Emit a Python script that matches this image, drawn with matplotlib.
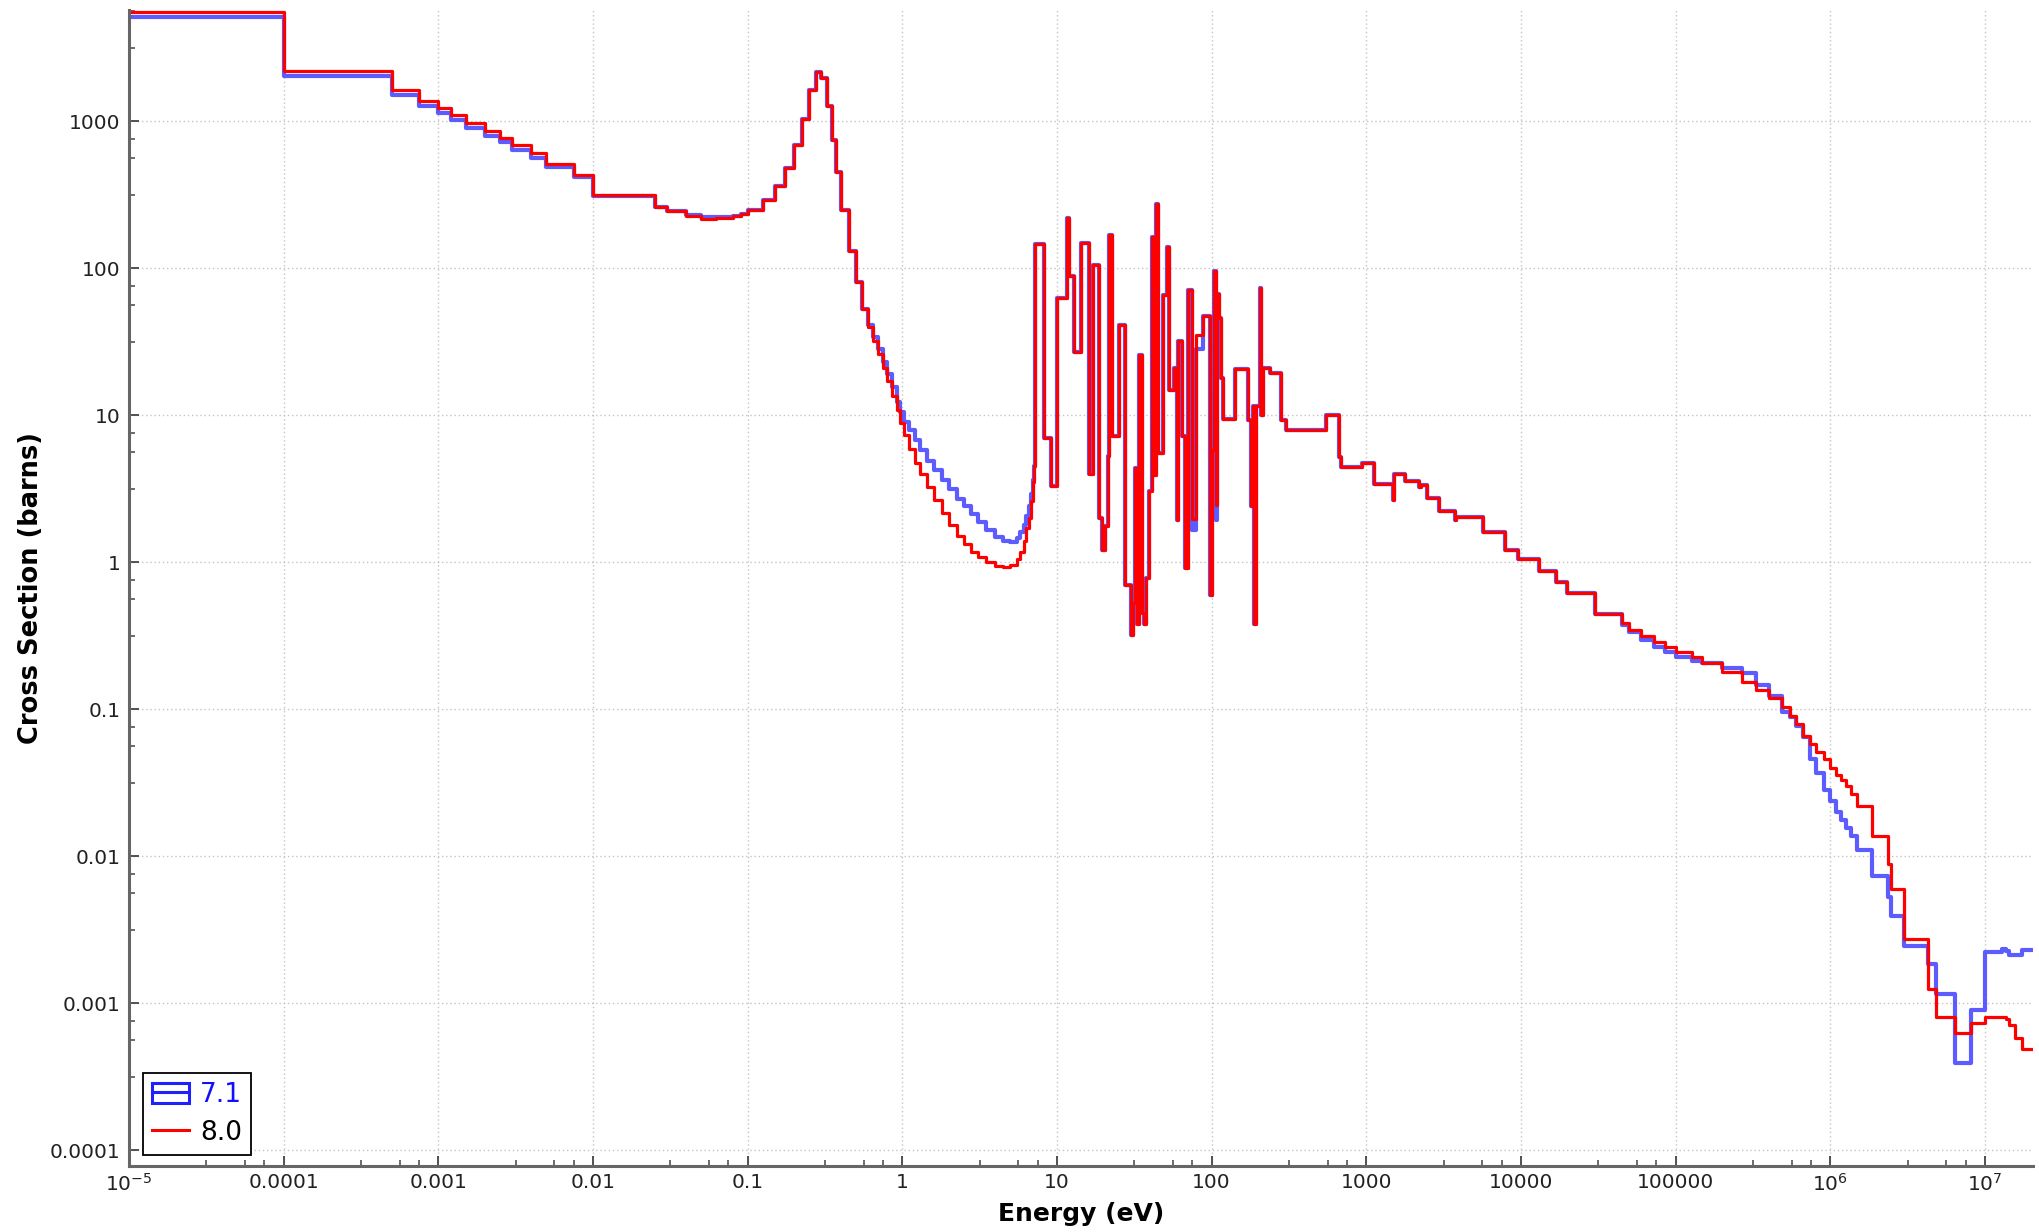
import numpy as np
import matplotlib
matplotlib.use('Agg')
import matplotlib.pyplot as plt
from matplotlib.lines import Line2D
from matplotlib.patches import Patch
from matplotlib.legend_handler import HandlerTuple
from matplotlib.ticker import FixedLocator, FuncFormatter, NullFormatter

# ---------------- group structure (eV) and cross sections (barns) ----------------
# thermal range, 1e-5 .. 0.1 eV
low_edges = [1e-5, 1e-4, 5e-4, 7.5e-4, 1e-3, 1.2e-3, 1.5e-3, 2e-3, 2.5e-3, 3e-3, 4e-3,
             5e-3, 7.5e-3, 1e-2, 2.5e-2, 3e-2, 4e-2, 5e-2, 6.2e-2, 8e-2, 9e-2, 0.1]
low_xs_71 = [5100, 2030, 1500, 1265, 1128, 1016, 896, 794, 723, 638, 565,
             486, 415, 310, 262, 243, 231, 221, 222, 225, 235]
low_xs_80 = [5500, 2190, 1630, 1375, 1225, 1100, 970, 850, 770, 683, 602,
             512, 433, 314, 262, 243, 225, 217, 219, 225, 235]

# 0.3 eV resonance
peak_edges = [0.1, 0.125, 0.15, 0.175, 0.2, 0.225, 0.25, 0.275, 0.3, 0.325, 0.35,
              0.375, 0.4, 0.45, 0.5, 0.55, 0.6]
peak_xs = [248, 291, 364, 482, 685, 1039, 1626, 2141, 1958, 1259, 745,
           453, 250, 130, 80, 52.7]

# wing between the resonances
tail_edges = [0.6, 0.65, 0.7, 0.75, 0.8, 0.86, 0.92, 0.97, 1.03, 1.1, 1.2, 1.3, 1.45,
              1.6, 1.8, 2.0, 2.25, 2.5, 2.8, 3.1, 3.5, 4.0, 4.5, 5.0, 5.5, 5.8, 6.1,
              6.35, 6.6, 6.8, 7.0, 7.13, 7.26]
tail_xs_71 = [41, 34, 28, 23, 19, 15.5, 12.3, 10.5, 9.0, 7.9, 6.8, 5.8, 4.9,
              4.25, 3.6, 3.15, 2.7, 2.4, 2.12, 1.86, 1.65, 1.48, 1.4, 1.37, 1.45, 1.6, 1.8,
              2.05, 2.4, 2.9, 3.6, 4.5]
tail_xs_80 = [39.5, 32, 26, 21, 17, 13.5, 10.8, 8.9, 7.3, 5.9, 4.7, 4.0, 3.25,
              2.65, 2.15, 1.8, 1.5, 1.32, 1.18, 1.08, 1.0, 0.94, 0.92, 0.95, 1.05, 1.18, 1.4,
              1.7, 2.0, 2.6, 3.5, 4.5]

# resolved resonance range
res_edges = [7.26, 8.2, 9.15, 10.0, 11.6, 11.9, 12.9, 14.4, 16.2, 17.0, 18.8, 19.5, 20.3,
             21.3, 21.6, 22.6, 25.3, 27.6, 29.9, 31.1, 32.0, 33.0, 34.0, 35.7, 36.7, 37.8,
             39.4, 40.9, 42.6, 43.9, 45.2, 48.4, 51.4, 53.4, 57.3, 59.6, 61.0, 64.6, 67.0,
             70.0, 75.0, 79.0, 88.0, 97.5, 101, 103, 106, 109, 112, 115, 119, 142, 173,
             179, 186, 188, 194, 204, 210, 216, 237, 280, 303, 546, 665, 685, 942, 1116]
res_xs = [145, 7.0, 3.3, 62.5, 219, 89, 26.8, 148, 4.0, 105, 2.0, 1.2,
          1.75, 5.3, 169, 7.2, 40.7, 0.70, 0.32, 0.53, 4.4, 0.38, 25.7, 0.45, 0.38,
          0.78, 3.03, 164, 3.9, 274, 5.5, 66, 140, 14.9, 20.9, 1.94, 31.7, 7.2,
          0.91, 71, 1.97, 35, 47.5, 0.6, 5.8, 95, 2.45, 67, 46, 18, 9.4, 20.7,
          9.3, 2.4, 11.5, 0.38, 11.5, 73, 10.0, 20.9, 19.3, 9.3, 7.95, 10.0, 5.2, 4.44, 4.7]
# groups where 7.1 differs from 8.0
res_idx_71 = [40, 41, 46]
res_val_71 = [1.65, 28, 1.94]

# unresolved / fast range
fast_edges = [1116, 1490, 1520, 1782, 2177, 2244, 2477, 2965, 3726, 3800, 5660, 7943,
              9600, 13000, 16800, 20000, 30000, 45000]
fast_xs = [3.38, 2.65, 3.98, 3.58, 3.23, 3.35, 2.75, 2.24, 1.94, 2.04, 1.59,
           1.21, 1.05, 0.865, 0.732, 0.612, 0.444]

high_edges = [45000, 50000, 60000, 73000, 85000, 1e5, 1.27e5, 1.48e5, 2e5, 2.67e5, 3.3e5,
              4e5, 4.9e5, 5.5e5, 6.05e5, 6.7e5, 7.43e5, 8.15e5, 9.1e5, 1e6, 1.09e6, 1.18e6,
              1.27e6, 1.37e6, 1.49e6, 1.85e6, 2.35e6, 2.47e6, 3e6, 4.27e6, 4.8e6, 6.4e6,
              8.1e6, 1e7, 1.3e7, 1.36e7, 1.44e7, 1.56e7, 1.73e7, 2e7]
high_xs_71 = [0.376, 0.334, 0.294, 0.265, 0.244, 0.227, 0.214, 0.205, 0.189, 0.176,
              0.147, 0.122, 0.095, 0.089, 0.077, 0.0646, 0.0457, 0.037, 0.028, 0.0236,
              0.020, 0.0177, 0.0155, 0.0136, 0.011, 0.0073, 0.0053, 0.0039, 0.00245,
              0.00184, 0.00115, 0.00039, 0.0009, 0.00222, 0.00232, 0.00226, 0.00214,
              0.00214, 0.00231]
high_xs_80 = [0.386, 0.346, 0.316, 0.288, 0.265, 0.245, 0.226, 0.205, 0.178, 0.152,
              0.134, 0.119, 0.103, 0.090, 0.079, 0.066, 0.058, 0.051, 0.0455, 0.0398,
              0.0357, 0.0328, 0.0298, 0.0266, 0.0219, 0.0138, 0.0089, 0.0060, 0.00274,
              0.00124, 0.00080, 0.00063, 0.00073, 0.00081, 0.00081, 0.00078, 0.00071,
              0.00058, 0.00049]

labels = ['7.1', '8.0']

# ---------------- assemble the two libraries ----------------
edges = np.concatenate([low_edges, peak_edges[1:], tail_edges[1:], res_edges[1:],
                        fast_edges[1:], high_edges[1:]])

res_xs_71 = list(res_xs)
for i, v in zip(res_idx_71, res_val_71):
    res_xs_71[i] = v

xs71 = np.concatenate([low_xs_71, peak_xs, tail_xs_71, res_xs_71, fast_xs, high_xs_71])
xs80 = np.concatenate([low_xs_80, peak_xs, tail_xs_80, res_xs, fast_xs, high_xs_80])
assert len(edges) == len(xs71) + 1 == len(xs80) + 1

BLUE = '#4a4aff'
RED = '#ff0000'

plt.rcParams['font.family'] = 'DejaVu Sans'
plt.rcParams['mathtext.default'] = 'regular'

fig = plt.figure(figsize=(20.39, 12.32), dpi=100)
ax = fig.add_axes([0.0633, 0.0536, 0.9338, 0.9383])

ax.step(edges, np.append(xs71, xs71[-1]), where='post', color=BLUE, lw=3.0, alpha=0.9)
ax.step(edges, np.append(xs80, xs80[-1]), where='post', color=RED, lw=2.3)

ax.set_xscale('log')
ax.set_yscale('log')
ax.set_xlim(1e-5, 2.05e7)
ax.set_ylim(7.8e-5, 5700)


def decade_label(v, pos, lo, hi):
    e = int(round(np.log10(v)))
    if e < lo or e > hi:
        return r'$10^{%d}$' % e
    if e < 0:
        return ('%.' + str(-e) + 'f') % v
    return '%d' % round(v)


ax.xaxis.set_major_locator(FixedLocator([10.0 ** k for k in range(-5, 8)]))
ax.xaxis.set_major_formatter(FuncFormatter(lambda v, p: decade_label(v, p, -4, 5)))
ax.yaxis.set_major_locator(FixedLocator([10.0 ** k for k in range(-4, 4)]))
ax.yaxis.set_major_formatter(FuncFormatter(lambda v, p: decade_label(v, p, -4, 5)))

# minor marks sit at half, three-quarter and seven-eighth of each decade
fracs = [0.5, 0.75, 0.875]
ax.xaxis.set_minor_locator(FixedLocator([10.0 ** (k + f) for k in range(-5, 8) for f in fracs]))
ax.yaxis.set_minor_locator(FixedLocator([10.0 ** (k + f) for k in range(-5, 4) for f in fracs]))
ax.xaxis.set_minor_formatter(NullFormatter())
ax.yaxis.set_minor_formatter(NullFormatter())

ax.tick_params(which='both', direction='in', color='#444444', labelsize=14.5, labelcolor='#222222')
ax.tick_params(which='major', length=7, width=1.3)
ax.tick_params(which='minor', length=4, width=1.1)
ax.tick_params(axis='x', pad=5)
ax.tick_params(axis='y', pad=6)

for side in ['top', 'right']:
    ax.spines[side].set_visible(False)
for side in ['left', 'bottom']:
    ax.spines[side].set_color('#666666')
    ax.spines[side].set_linewidth(2.2)

ax.grid(True, which='major', linestyle=(0, (1, 2)), color='#c4c4c4', linewidth=1)
ax.set_axisbelow(True)

ax.set_xlabel('Energy (eV)', fontsize=18, fontweight='bold', labelpad=5)
ax.set_ylabel('Cross Section (barns)', fontsize=18.5, fontweight='bold', labelpad=4)

# 7.1 key: outlined box with a line through it
h71 = (Patch(facecolor='none', edgecolor='#2020ff', lw=2.2),
       Line2D([], [], color='#2020ff', lw=2.2))
h80 = Line2D([], [], color=RED, lw=2.2)
leg = ax.legend([h71, h80], labels, handler_map={tuple: HandlerTuple(ndivide=1, pad=0)},
                loc='lower left', bbox_to_anchor=(0.0074, 0.0095), borderaxespad=0,
                fontsize=19, frameon=True, fancybox=False, framealpha=1,
                edgecolor='black', handlelength=1.4, handleheight=0.8,
                handletextpad=0.4, labelspacing=0.45, borderpad=0.35)
leg.get_frame().set_linewidth(1.3)
leg.get_texts()[0].set_color('#1010ff')

fig.savefig('out.png', dpi=100)
